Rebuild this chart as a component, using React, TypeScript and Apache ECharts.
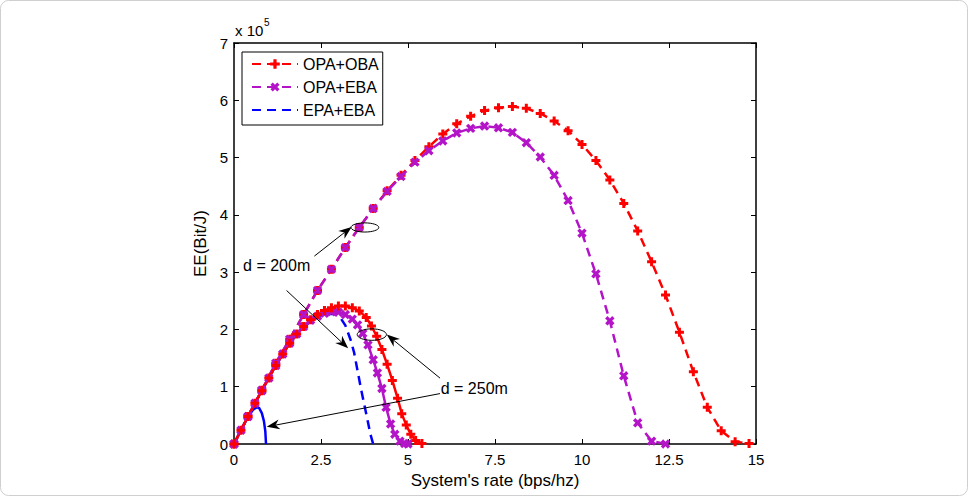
import React, { useEffect, useRef } from "react";
import * as echarts from "echarts";

const FONT = "'Liberation Sans', Arial, Helvetica, sans-serif";
const RED = "#ff0000";
const MAGENTA = "#b414c8";
const BLUE = "#0000ff";

// Rate grid (bps/Hz) of the d = 200 m optimal-allocation curves
const rateD200 = [0, 0.4, 0.8, 1.2, 1.6, 2.0, 2.4, 2.8, 3.2, 3.6, 4.0, 4.4, 4.8, 5.2, 5.6, 6.0, 6.4, 6.8, 7.2, 7.6, 8.0, 8.4, 8.8, 9.2, 9.6, 10.0, 10.4, 10.8, 11.2, 11.6, 12.0, 12.4, 12.8, 13.2, 13.6, 14.0, 14.4, 14.8];
// Energy efficiency in units of 1e5 Bit/J
const eeOpaObaD200 = [0, 0.48, 0.94, 1.41, 1.83, 2.26, 2.68, 3.05, 3.43, 3.78, 4.11, 4.42, 4.69, 4.95, 5.19, 5.41, 5.59, 5.72, 5.82, 5.87, 5.89, 5.86, 5.77, 5.64, 5.47, 5.23, 4.95, 4.61, 4.2, 3.72, 3.18, 2.6, 1.95, 1.26, 0.64, 0.23, 0.04, 0.01];
const eeOpaEbaD200 = [0, 0.48, 0.94, 1.41, 1.83, 2.26, 2.68, 3.05, 3.43, 3.78, 4.11, 4.41, 4.67, 4.92, 5.12, 5.29, 5.43, 5.51, 5.55, 5.52, 5.44, 5.26, 5.01, 4.69, 4.25, 3.68, 2.97, 2.15, 1.19, 0.37, 0.05, 0.0];
const rateEpaEbaD200 = [0, 0.4, 0.8, 1.2, 1.6, 2.0, 2.4, 2.7, 2.9, 3.05, 3.2, 3.35, 3.45, 3.55, 3.65, 3.75, 3.85, 3.92, 4.0];
const eeEpaEbaD200 = [0, 0.48, 0.93, 1.37, 1.76, 2.05, 2.22, 2.27, 2.27, 2.21, 2.07, 1.82, 1.6, 1.28, 0.96, 0.67, 0.38, 0.17, 0];

// d = 250 m
const rateOpaObaD250 = [0, 0.2, 0.4, 0.6, 0.8, 1.0, 1.2, 1.4, 1.6, 1.8, 2.0, 2.2, 2.4, 2.6, 2.8, 3.0, 3.2, 3.4, 3.6, 3.8, 3.95, 4.1, 4.25, 4.4, 4.55, 4.7, 4.82, 4.95, 5.08, 5.22, 5.4];
const eeOpaObaD250 = [0, 0.24, 0.48, 0.71, 0.93, 1.15, 1.37, 1.57, 1.76, 1.92, 2.05, 2.17, 2.26, 2.33, 2.38, 2.41, 2.41, 2.38, 2.32, 2.21, 2.06, 1.88, 1.65, 1.39, 1.11, 0.8, 0.53, 0.33, 0.17, 0.06, 0.01];
const rateOpaEbaD250 = [0, 0.2, 0.4, 0.6, 0.8, 1.0, 1.2, 1.4, 1.6, 1.8, 2.0, 2.2, 2.4, 2.6, 2.8, 3.0, 3.2, 3.4, 3.55, 3.7, 3.85, 4.0, 4.12, 4.25, 4.37, 4.5, 4.62, 4.77, 4.9, 5.0];
const eeOpaEbaD250 = [0, 0.24, 0.48, 0.71, 0.93, 1.15, 1.37, 1.57, 1.76, 1.92, 2.05, 2.16, 2.23, 2.28, 2.31, 2.3, 2.26, 2.18, 2.08, 1.93, 1.73, 1.47, 1.24, 0.97, 0.64, 0.35, 0.17, 0.05, 0.01, 0];
const rateEpaEbaD250 = [0, 0.2, 0.4, 0.55, 0.65, 0.72, 0.8, 0.86, 0.9, 0.92];
const eeEpaEbaD250 = [0, 0.24, 0.47, 0.6, 0.64, 0.63, 0.54, 0.4, 0.22, 0];

const legendNames = ["OPA+OBA", "OPA+EBA", "EPA+EBA"];

// Annotations, in data units (rate, EE/1e5)
const labels = [
  { text: "d = 200m", at: [0.26, 3.11] },
  { text: "d = 250m", at: [5.94, 0.97] },
];
const arrows = [
  { from: [2.31, 3.28], to: [3.38, 3.79] },
  { from: [1.51, 2.68], to: [3.28, 1.67] },
  { from: [5.92, 1.15], to: [4.39, 1.91] },
  { from: [5.92, 0.88], to: [0.94, 0.3] },
];
const ellipses = [
  { center: [3.76, 3.78], rx: 0.4, ry: 0.08 },
  { center: [3.96, 1.91], rx: 0.42, ry: 0.1 },
];

const PLUS = "path://M3,0H6V3H9V6H6V9H3V6H0V3H3Z";

const GRID = { left: 234, right: 212, top: 43, bottom: 52 };

const pairs = (xs: number[], ys: number[]) => ys.map((y, i) => [xs[i], y]);

function line(
  name: string,
  xs: number[],
  ys: number[],
  color: string,
  dashed: boolean,
  marker: "plus" | "cross" | "none"
) {
  return {
    type: "line",
    name,
    data: pairs(xs, ys),
    symbol: marker === "none" ? "none" : PLUS,
    symbolSize: marker === "cross" ? 10 : 9,
    symbolRotate: marker === "cross" ? 45 : 0,
    showSymbol: marker !== "none",
    showAllSymbol: true,
    lineStyle: { color, width: 2.5, type: dashed ? [9, 6] : "solid" },
    itemStyle: { color },
    emphasis: { disabled: true },
    silent: true,
  };
}

export default function App() {
  const ref = useRef<HTMLDivElement>(null);

  useEffect(() => {
    const chart = echarts.init(ref.current!, null, { renderer: "svg" });

    const axisCommon = {
      type: "value",
      axisLine: { show: true, onZero: false, lineStyle: { color: "#000", width: 1.5 } },
      axisTick: { show: true, inside: true, length: 5, lineStyle: { color: "#000", width: 1 } },
      splitLine: { show: false },
    };
    const tickText = { color: "#000", fontSize: 15, fontFamily: FONT };
    const nameText = { color: "#000", fontSize: 17, fontFamily: FONT };

    chart.setOption({
      animation: false,
      backgroundColor: "#fff",
      textStyle: { fontFamily: FONT },
      grid: { ...GRID, containLabel: false },
      legend: {
        data: legendNames.map((n) =>
          n === "EPA+EBA" ? { name: n, itemStyle: { opacity: 0 } } : { name: n }
        ),
        orient: "vertical",
        left: 242,
        top: 52,
        itemWidth: 46,
        itemHeight: 12,
        itemGap: 7,
        padding: [4, 4, 7, 9],
        borderColor: "#000",
        borderWidth: 1,
        backgroundColor: "#fff",
        borderRadius: 0,
        selectedMode: false,
        textStyle: { color: "#000", fontSize: 16, fontFamily: FONT },
      },
      xAxis: [
        {
          ...axisCommon,
          position: "bottom",
          min: 0,
          max: 15,
          interval: 2.5,
          axisLabel: { ...tickText, margin: 8 },
          name: "System's rate (bps/hz)",
          nameLocation: "middle",
          nameGap: 26,
          nameTextStyle: nameText,
        },
        {
          ...axisCommon,
          position: "top",
          min: 0,
          max: 15,
          interval: 2.5,
          axisLabel: { show: false },
        },
      ],
      yAxis: [
        {
          ...axisCommon,
          position: "left",
          min: 0,
          max: 7,
          interval: 1,
          axisLabel: { ...tickText, margin: 6 },
          name: "EE(Bit/J)",
          nameLocation: "middle",
          nameGap: 22,
          nameTextStyle: nameText,
        },
        {
          ...axisCommon,
          position: "right",
          min: 0,
          max: 7,
          interval: 1,
          axisLabel: { show: false },
        },
      ],
      series: [
        line("EPA+EBA", rateEpaEbaD200, eeEpaEbaD200, BLUE, true, "none"),
        line("EPA+EBA d250", rateEpaEbaD250, eeEpaEbaD250, BLUE, false, "none"),
        line("OPA+OBA", rateD200, eeOpaObaD200, RED, true, "plus"),
        line("OPA+EBA", rateD200.slice(0, eeOpaEbaD200.length), eeOpaEbaD200, MAGENTA, true, "cross"),
        line("OPA+EBA d250", rateOpaEbaD250, eeOpaEbaD250, MAGENTA, false, "cross"),
        line("OPA+OBA d250", rateOpaObaD250, eeOpaObaD250, RED, false, "plus"),
      ],
    });

    const px = (p: number[]) =>
      chart.convertToPixel({ xAxisIndex: 0, yAxisIndex: 0 }, p) as number[];

    const graphics: any[] = [];

    // frame around the figure
    graphics.push({
      type: "rect",
      shape: { x: 0.5, y: 0.5, width: 967, height: 495, r: 8 },
      style: { fill: "none", stroke: "#cfcfcf", lineWidth: 1 },
      silent: true,
      z: 200,
    });

    // axis scale factor
    graphics.push({
      type: "text",
      x: GRID.left + 1,
      y: GRID.top - 13,
      style: { text: "x 10", fontSize: 15, fontFamily: FONT, fill: "#000", verticalAlign: "middle" },
      z: 100,
    });
    graphics.push({
      type: "text",
      x: GRID.left + 30,
      y: GRID.top - 21,
      style: { text: "5", fontSize: 10, fontFamily: FONT, fill: "#000", verticalAlign: "middle" },
      z: 100,
    });

    labels.forEach((l) => {
      const [x, y] = px(l.at);
      graphics.push({
        type: "text",
        x,
        y,
        style: { text: l.text, fontSize: 16, fontFamily: FONT, fill: "#000", verticalAlign: "middle", align: "left" },
        z: 100,
      });
    });

    ellipses.forEach((e) => {
      const [cx, cy] = px(e.center);
      const [ex] = px([e.center[0] + e.rx, e.center[1]]);
      const [, ey] = px([e.center[0], e.center[1] + e.ry]);
      graphics.push({
        type: "ellipse",
        shape: { cx, cy, rx: Math.abs(ex - cx), ry: Math.abs(cy - ey) },
        style: { fill: "none", stroke: "#000", lineWidth: 1 },
        z: 100,
      });
    });

    arrows.forEach((a) => {
      const [x1, y1] = px(a.from);
      const [x2, y2] = px(a.to);
      const ang = Math.atan2(y2 - y1, x2 - x1);
      const ux = Math.cos(ang);
      const uy = Math.sin(ang);
      const nx = -uy;
      const ny = ux;
      const L = 13;
      const W = 5;
      const N = 9;
      const notch = [x2 - ux * N, y2 - uy * N];
      graphics.push({
        type: "line",
        shape: { x1, y1, x2: notch[0], y2: notch[1] },
        style: { stroke: "#000", lineWidth: 1 },
        z: 100,
      });
      graphics.push({
        type: "polygon",
        shape: {
          points: [
            [x2, y2],
            [x2 - ux * L + nx * W, y2 - uy * L + ny * W],
            notch,
            [x2 - ux * L - nx * W, y2 - uy * L - ny * W],
          ],
        },
        style: { fill: "#000" },
        z: 100,
      });
    });

    chart.setOption({ graphic: graphics });

    return () => chart.dispose();
  }, []);

  return (
    <div
      ref={ref}
      style={{ position: "fixed", left: 0, top: 0, width: 968, height: 496, background: "#fff" }}
    />
  );
}
